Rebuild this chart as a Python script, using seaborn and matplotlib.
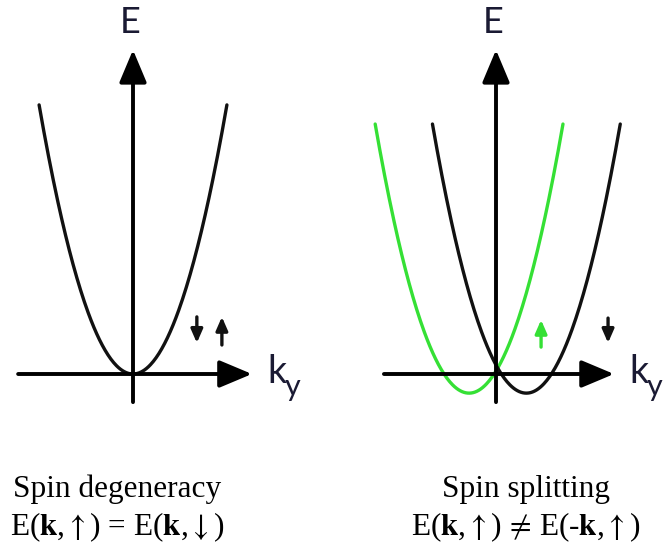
import numpy as np
import pandas as pd
import matplotlib
matplotlib.use("Agg")
import matplotlib.pyplot as plt
import seaborn as sns

sns.set_style("white")
plt.rcParams["mathtext.fontset"] = "stix"

# ---- band parameters (k in arbitrary units, E in arbitrary units) ----
# left panel: two degenerate spin bands sharing one parabola
left_vertex_k = [0.0]
left_vertex_E = [0.0]
left_colors = ["#111111"]
# right panel: spin-split bands shifted in k
right_vertex_k = [-0.86, 0.97]
right_vertex_E = [-0.64, -0.64]
right_colors = ["#35e035", "#111111"]
band_half_width = 3.0

# axis extents of the schematic k and E axes
k_axis_left = [-3.67, 3.80]
k_axis_right = [-3.58, 3.77]
E_axis = [-0.94, 10.84]

# spin arrows: (k, E_tail, E_head, colour)
left_spins = [(2.04, 1.91, 1.04, "#111111"), (2.84, 0.97, 1.91, "#111111")]
right_spins = [(1.44, 0.90, 1.81, "#35e035"), (3.58, 1.87, 1.04, "#111111")]

titles = ["Spin degeneracy", "Spin splitting"]
relations = [r"E($\mathbf{k}$,$\uparrow$) = E($\mathbf{k}$,$\downarrow$)",
             r"E($\mathbf{k}$,$\uparrow$)$\,\neq\,$E(-$\mathbf{k}$,$\uparrow$)"]

W, H = 668, 556
fig = plt.figure(figsize=(W / 100, H / 100), dpi=100)

px_k = 31.3   # pixels per k unit
px_E = 29.9   # pixels per E unit
origin_y = 374
label_color = "#1a1a33"


def make_axes(x0, x1, origin_x):
    ax = fig.add_axes([x0 / W, 0, (x1 - x0) / W, 1])
    ax.set_xlim(-(origin_x - x0) / px_k, (x1 - origin_x) / px_k)
    ax.set_ylim(-(H - origin_y) / px_E, origin_y / px_E)
    ax.axis("off")
    return ax


def bands_frame(vk, vE):
    rows = []
    for i, (k0, e0) in enumerate(zip(vk, vE)):
        k = np.linspace(k0 - band_half_width, k0 + band_half_width, 200)
        rows.append(pd.DataFrame({"k": k, "E": (k - k0) ** 2 + e0, "band": f"b{i}"}))
    return pd.concat(rows, ignore_index=True)


def draw_axes_arrows(ax, k_ext):
    big = dict(arrowstyle="-|>,head_length=1.0,head_width=0.42",
               color="black", lw=2.8, mutation_scale=20,
               shrinkA=0, shrinkB=0)
    ax.annotate("", xy=(k_ext[1], 0), xytext=(k_ext[0], 0), arrowprops=big)
    ax.annotate("", xy=(0, E_axis[1]), xytext=(0, E_axis[0]), arrowprops=big)
    ax.text(-0.08, 11.75, "E", family="Lato", fontsize=26, color=label_color,
            ha="center", va="center")
    kx = k_ext[1] + 0.5
    ax.text(kx, -0.3, "k", family="Lato", fontsize=27, color=label_color,
            ha="left", va="baseline")
    ax.text(kx + 0.55, -0.75, "y", family="Lato", fontsize=22, color=label_color,
            ha="left", va="baseline")


def draw_spins(ax, spins):
    for k, e0, e1, c in spins:
        ax.annotate("", xy=(k, e1), xytext=(k, e0),
                    arrowprops=dict(arrowstyle="-|>,head_length=0.8,head_width=0.35",
                                    color=c, lw=2.4, mutation_scale=10,
                                    shrinkA=0, shrinkB=0))


# left panel
axL = make_axes(0, 334, 133)
dfL = bands_frame(left_vertex_k, left_vertex_E)
sns.lineplot(data=dfL, x="k", y="E", hue="band", palette=left_colors,
             sort=False, estimator=None, lw=2.4, legend=False, ax=axL)
draw_axes_arrows(axL, k_axis_left)
draw_spins(axL, left_spins)

# right panel
axR = make_axes(334, 668, 496)
dfR = bands_frame(right_vertex_k, right_vertex_E)
sns.lineplot(data=dfR, x="k", y="E", hue="band", palette=right_colors,
             sort=False, estimator=None, lw=2.4, legend=False, ax=axR)
draw_axes_arrows(axR, k_axis_right)
draw_spins(axR, right_spins)

# captions
for cx, t, r in zip([117, 526], titles, relations):
    fig.text(cx / W, (H - 497) / H, t, family="Liberation Serif", fontsize=22.5,
             ha="center", va="baseline", color="black")
    fig.text(cx / W, (H - 535) / H, r, family="Liberation Serif", fontsize=22.5,
             ha="center", va="baseline", color="black")

fig.savefig("out.png", dpi=100)
